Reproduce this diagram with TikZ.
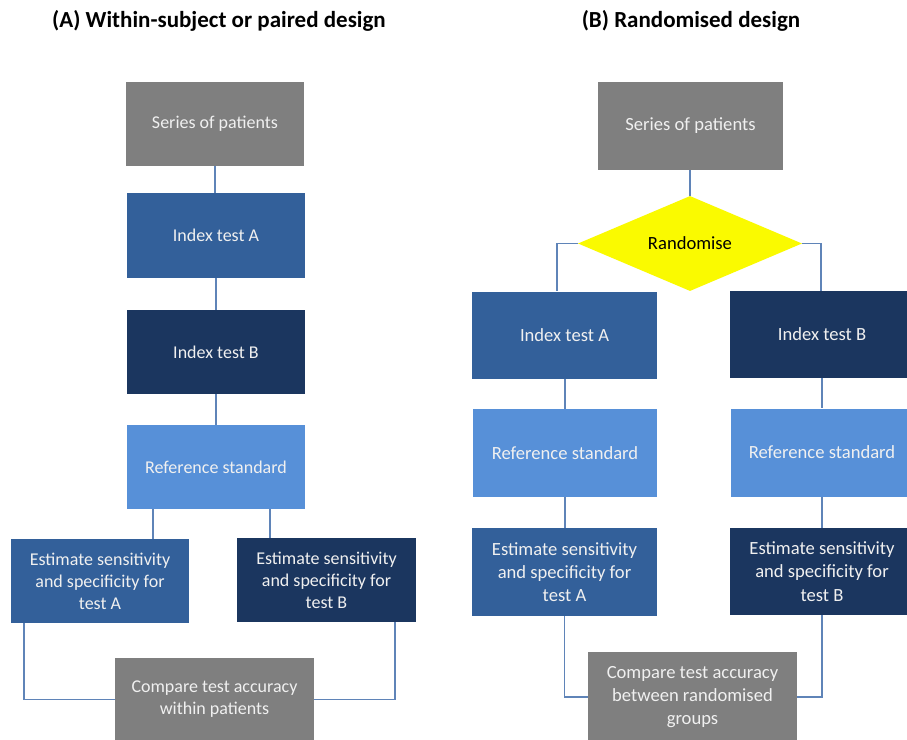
\documentclass[tikz,border=0pt]{standalone}
\usepackage{fontspec}
\setmainfont{Carlito}
\usetikzlibrary{shapes.geometric}
\definecolor{cgray}{HTML}{7F7F7F}
\definecolor{cmid}{HTML}{33609A}
\definecolor{cnavy}{HTML}{1B365F}
\definecolor{clight}{HTML}{5790D8}
\definecolor{cyel}{HTML}{FAFA00}
\definecolor{cline}{HTML}{5F84B8}
\definecolor{ctext}{HTML}{F0F0F0}
\tikzset{
  boxA/.style={rectangle, inner sep=2pt, align=center, text=ctext,
    font=\fontsize{18}{22}\selectfont},
  boxB/.style={rectangle, inner sep=2pt, align=center, text=ctext,
    font=\fontsize{18.6}{23.2}\selectfont},
  conn/.style={draw=cline, line width=1.6pt},
  ttl/.style={font=\bfseries\fontsize{23}{26}\selectfont, text=black}
}
\begin{document}
\begin{tikzpicture}[x=1pt,y=-1pt]
\useasboundingbox (0,0) rectangle (907,739);
\clip (0,0) rectangle (907,739);
\fill[white] (0,0) rectangle (907,739);

% titles
\node[ttl] (tA) at (219,21) {(A) Within-subject or paired design};
\node[ttl] (tB) at (691,21) {(B) Randomised design};

% ---------- (A) ----------
\node[boxA, fill=cgray, minimum width=178, minimum height=84] (sp1) at (215,124) {Series of patients};
\node[boxA, fill=cmid, minimum width=178, minimum height=85] (ia1) at (216,235.5) {Index test A};
\node[boxA, fill=cnavy, minimum width=178, minimum height=84] (ib1) at (216,352) {Index test B};
\node[boxA, fill=clight, minimum width=178, minimum height=84] (rs1) at (216,467) {Reference standard};
\node[boxA, fill=cmid, minimum width=178, minimum height=84] (ea1) at (100,581) {Estimate sensitivity\\and specificity for\\test A};
\node[boxA, fill=cnavy, minimum width=179, minimum height=84] (eb1) at (326.5,580) {Estimate sensitivity\\and specificity for\\test B};
\node[boxA, fill=cgray, minimum width=199, minimum height=84] (cm1) at (214.5,699.5) {Compare test accuracy\\within patients};

\coordinate (xa1) at (153,0);
\coordinate (xb1) at (270,0);
\coordinate (xa1b) at (24,0);
\coordinate (xb1b) at (395,0);

\draw[conn] (sp1.south) -- (sp1.south |- ia1.north);
\draw[conn] (ia1.south) -- (ib1.north);
\draw[conn] (ib1.south) -- (rs1.north);
\draw[conn] (rs1.south -| xa1) -- (ea1.north -| xa1);
\draw[conn] (rs1.south -| xb1) -- (eb1.north -| xb1);
\draw[conn] (ea1.south -| xa1b) |- (cm1.west);
\draw[conn] (eb1.south -| xb1b) |- (cm1.east);

% ---------- (B) ----------
\node[boxB, fill=cgray, minimum width=185, minimum height=88] (sp2) at (690.5,126) {Series of patients};
\node[diamond, fill=cyel, inner sep=0pt, aspect=2.36, minimum width=224, minimum height=95,
  font=\fontsize{18.6}{22}\selectfont, text=black] (rnd) at (690,243.5) {Randomise};
\node[boxB, fill=cmid, minimum width=185, minimum height=87] (ia2) at (564.5,335) {Index test A};
\node[boxB, fill=cnavy, minimum width=185, minimum height=87] (ib2) at (822,334.5) {Index test B};
\node[boxB, fill=clight, minimum width=184, minimum height=88] (rs2) at (565,453) {Reference standard};
\node[boxB, fill=clight, minimum width=183, minimum height=88] (rs2b) at (822,452.5) {Reference standard};
\node[boxB, fill=cmid, minimum width=185, minimum height=88] (ea2) at (564.5,572) {Estimate sensitivity\\and specificity for\\test A};
\node[boxB, fill=cnavy, minimum width=185, minimum height=87] (eb2) at (822,571.5) {Estimate sensitivity\\and specificity for\\test B};
\node[boxB, fill=cgray, minimum width=209, minimum height=90] (cm2) at (692.5,697) {Compare test accuracy\\between randomised\\groups};

\coordinate (xl2) at (557,0);
\coordinate (xr2) at (821,0);

\draw[conn] (sp2.south -| rnd.north) -- (rnd.north);
\draw[conn] (rnd.west) -| (ia2.north -| xl2);
\draw[conn] (rnd.east) -| (ib2.north -| xr2);
\draw[conn] (ia2.south -| rs2.north) -- (rs2.north);
\draw[conn] (ib2.south) -- (rs2b.north);
\draw[conn] (rs2.south) -- (rs2.south |- ea2.north);
\draw[conn] (rs2b.south) -- (rs2b.south |- eb2.north);
\draw[conn] (ea2.south) |- (cm2.west);
\draw[conn] (eb2.south) |- (cm2.east);
\end{tikzpicture}
\end{document}
